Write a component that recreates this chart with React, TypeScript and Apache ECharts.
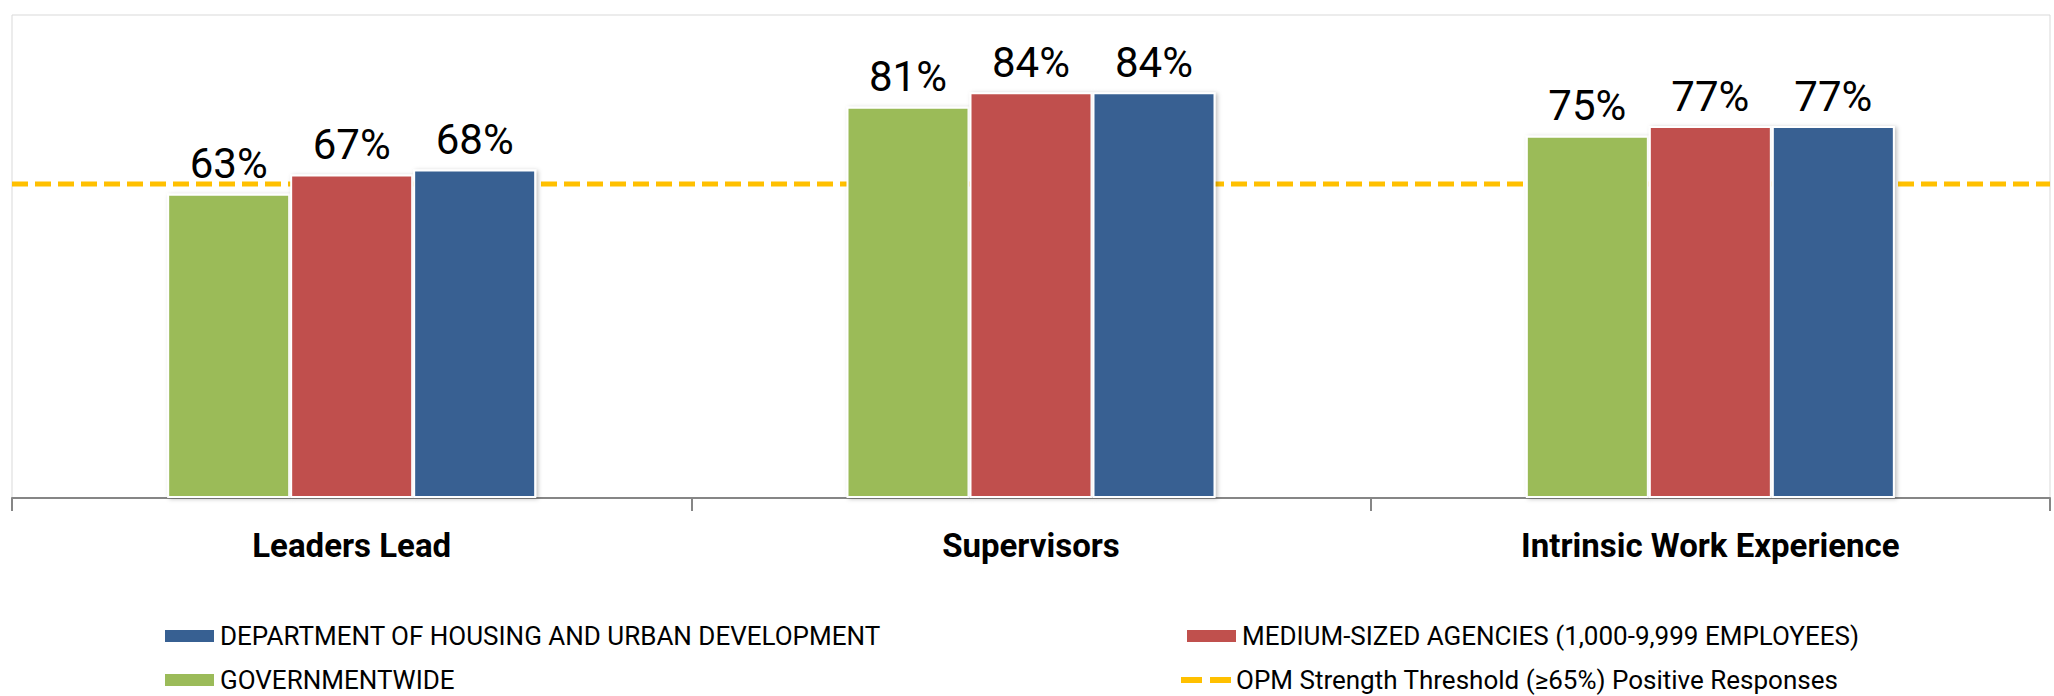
import React, { useEffect, useRef } from "react";
import * as echarts from "echarts";

const categories = ["Leaders Lead", "Supervisors", "Intrinsic Work Experience"];
const governmentwide = [63, 81, 75];
const mediumAgencies = [67, 84, 77];
const hud = [68, 84, 77];
const threshold = 65;

const NAME_HUD = "DEPARTMENT OF HOUSING AND URBAN DEVELOPMENT";
const NAME_MED = "MEDIUM-SIZED AGENCIES (1,000-9,999 EMPLOYEES)";
const NAME_GOV = "GOVERNMENTWIDE";
const NAME_THR = "OPM Strength Threshold (≥65%) Positive Responses";

const FONT = "Roboto, 'Open Sans', sans-serif";

export default function App() {
  const ref = useRef<HTMLDivElement>(null);
  useEffect(() => {
    if (!ref.current) return;
    const chart = echarts.init(ref.current, null, { renderer: "svg" });
    const barBase = {
      type: "bar",
      barGap: "0%",
      barWidth: 123,
      z: 3,
      label: {
        show: true,
        position: "top",
        distance: 9,
        formatter: "{c}%",
        fontSize: 42,
        fontFamily: FONT,
        color: "#000",
      },
      itemStyle: {
        borderColor: "#ffffff",
        borderWidth: 2,
        shadowBlur: 4,
        shadowOffsetX: 2,
        shadowOffsetY: 1,
        shadowColor: "rgba(0,0,0,0.25)",
      },
    };
    const legendText = { fontSize: 26, fontFamily: FONT, color: "#000" };
    const dashIcon = "path://M0,0H21V6H0Z M29,0H50V6H29Z";
    chart.setOption({
      animation: false,
      backgroundColor: "#fff",
      grid: {
        left: 12,
        right: 4,
        top: 15,
        bottom: 198,
        show: true,
        borderColor: "#d9d9d9",
        borderWidth: 1,
      },
      xAxis: [
        {
          type: "category",
          data: categories,
          axisLine: { lineStyle: { color: "#868686", width: 2 } },
          axisTick: { show: true, length: 13, lineStyle: { color: "#868686", width: 2 } },
          axisLabel: {
            fontSize: 33,
            fontWeight: "bold",
            fontFamily: FONT,
            color: "#000",
            margin: 31,
          },
        },
        { type: "value", min: 0, max: 1, show: false },
      ],
      yAxis: {
        type: "value",
        min: 0,
        max: 100,
        show: false,
        splitLine: { show: false },
      },
      legend: [
        {
          data: [{ name: NAME_HUD, icon: "rect" }],
          left: 158,
          top: 618,
          itemWidth: 51,
          itemHeight: 14,
          textStyle: legendText,
        },
        {
          data: [{ name: NAME_MED, icon: "rect" }],
          left: 1180,
          top: 618,
          itemWidth: 51,
          itemHeight: 14,
          textStyle: legendText,
        },
        {
          data: [{ name: NAME_GOV, icon: "rect" }],
          left: 158,
          top: 662,
          itemWidth: 51,
          itemHeight: 14,
          textStyle: legendText,
        },
        {
          data: [{ name: NAME_THR, icon: dashIcon }],
          left: 1176,
          top: 662,
          itemWidth: 50,
          itemHeight: 6,
          textStyle: legendText,
        },
      ],
      series: [
        {
          name: NAME_THR,
          type: "line",
          xAxisIndex: 1,
          data: [
            [0, threshold],
            [1, threshold],
          ],
          symbol: "none",
          z: 1,
          itemStyle: { color: "#FFC000" },
          lineStyle: { color: "#FFC000", width: 5, type: [16, 7] },
        },
        { ...barBase, name: NAME_GOV, data: governmentwide, itemStyle: { ...barBase.itemStyle, color: "#9BBB59" } },
        { ...barBase, name: NAME_MED, data: mediumAgencies, itemStyle: { ...barBase.itemStyle, color: "#C0504D" } },
        { ...barBase, name: NAME_HUD, data: hud, itemStyle: { ...barBase.itemStyle, color: "#376092" } },
      ],
    });
    return () => chart.dispose();
  }, []);
  return (
    <div
      ref={ref}
      style={{ position: "absolute", left: 0, top: 0, width: 2054, height: 696 }}
    />
  );
}
